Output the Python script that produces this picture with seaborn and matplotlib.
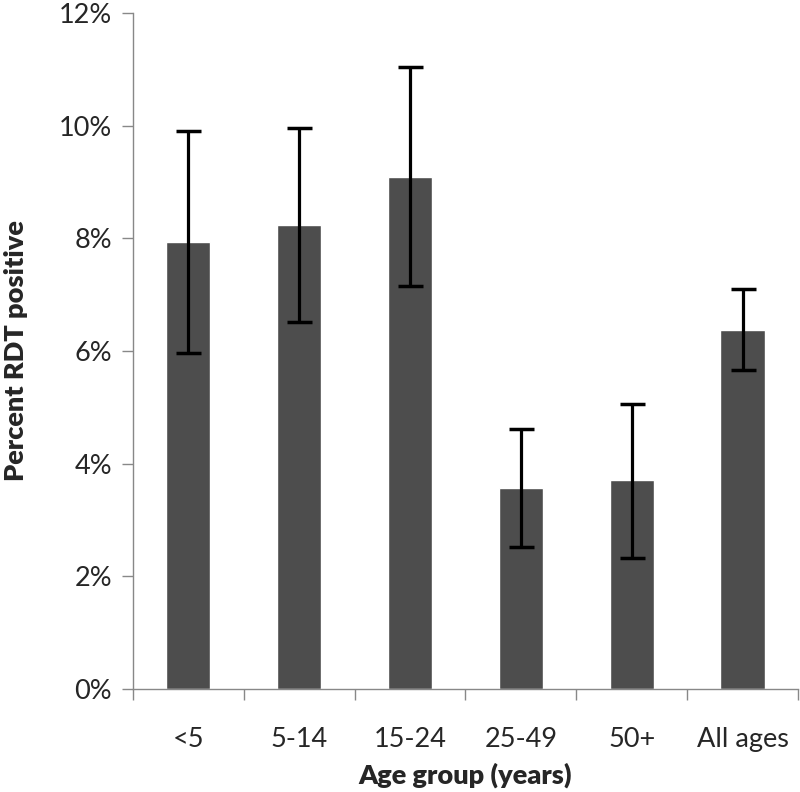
import matplotlib
matplotlib.use("Agg")
import matplotlib.pyplot as plt
import matplotlib.ticker as mtick
import pandas as pd
import seaborn as sns

# valores (em %)
grupos = ["<5", "5-14", "15-24", "25-49", "50+", "All ages"]
percentual = [7.94, 8.24, 9.09, 3.57, 3.71, 6.37]
ic_inferior = [5.96, 6.52, 7.15, 2.52, 2.33, 5.66]
ic_superior = [9.91, 9.96, 11.04, 4.62, 5.06, 7.10]

dados = pd.DataFrame({"grupo": grupos, "pct": percentual})

sns.set_style("white")
plt.rcParams["font.family"] = ["Lato", "DejaVu Sans"]

fig = plt.figure(figsize=(8, 7.92), dpi=100)
ax = fig.add_axes([0.166, 0.130, 0.8315, 0.8536])

sns.barplot(data=dados, x="grupo", y="pct", color="#4d4d4d", saturation=1,
            width=0.4, errorbar=None, ax=ax)

erro_baixo = [p - lo for p, lo in zip(percentual, ic_inferior)]
erro_cima = [hi - p for p, hi in zip(percentual, ic_superior)]
ax.errorbar(range(len(grupos)), percentual, yerr=[erro_baixo, erro_cima],
            fmt="none", ecolor="black", elinewidth=2.3, capsize=9, capthick=2.5)

ax.set_ylim(0, 12)
ax.set_xlim(-0.5, len(grupos) - 0.5)
ax.yaxis.set_major_locator(mtick.MultipleLocator(2))
ax.yaxis.set_major_formatter(mtick.FuncFormatter(lambda v, _: f"{v:.0f}%"))

# ticks do eixo x ficam nas divisas entre categorias
ax.set_xticks([i + 0.5 for i in range(-1, len(grupos))], minor=True)
ax.tick_params(axis="x", which="major", length=0, pad=27, labelsize=19.5)
ax.tick_params(axis="x", which="minor", length=8, width=1, color="#888888", direction="out")
ax.tick_params(axis="y", length=8, width=1, color="#888888", direction="out", pad=7, labelsize=19.5)
ax.tick_params(bottom=True, left=True, which="both")

for lado in ["top", "right"]:
    ax.spines[lado].set_visible(False)
for lado in ["left", "bottom"]:
    ax.spines[lado].set_color("#888888")
    ax.spines[lado].set_linewidth(1)

ax.set_xlabel("Age group (years)", fontsize=19.5, fontweight="heavy", labelpad=8)
ax.set_ylabel("Percent RDT positive", fontsize=19.5, fontweight="heavy", labelpad=22)

fig.savefig("out.png", dpi=100)
